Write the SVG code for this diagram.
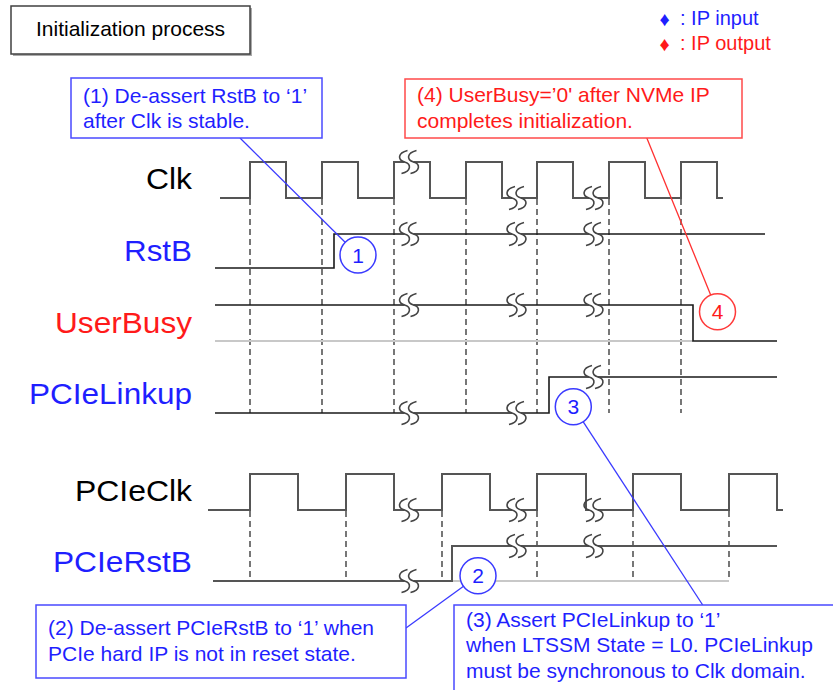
<svg xmlns="http://www.w3.org/2000/svg" xmlns:xlink="http://www.w3.org/1999/xlink" width="833" height="690" viewBox="0 0 833 690">
<style>
text{font-family:"Liberation Sans",Arial,sans-serif}
.lbl{font-size:29px;text-anchor:end}
.co{font-size:21px}
.blue{fill:#1f1fff}
.red{fill:#ff1a1a}
.blk{fill:#000}
.wclk{fill:none;stroke:#555;stroke-width:2}
.wsig{fill:none;stroke:#1a1a1a;stroke-width:1.6}
.wgray{fill:none;stroke:#c8c8c8;stroke-width:2}
.dash{fill:none;stroke:#555;stroke-width:1.6;stroke-dasharray:6 4}
.bbox{fill:#fff;stroke:#4a4aff;stroke-width:1.5}
.rbox{fill:#fff;stroke:#ff4a4a;stroke-width:1.5}
.bcir{fill:#fff;stroke:#3a3aff;stroke-width:1.5}
.rcir{fill:#fff;stroke:#ff3a3a;stroke-width:1.5}
.num{font-size:21px;text-anchor:middle}
.bl{stroke:#3a3aff;stroke-width:1.3}
.rl{stroke:#ff3030;stroke-width:1.3}
</style>
<defs>
<g id="brk">
<rect x="-4.5" y="-2.5" width="9" height="5" fill="#fff"/>
<path d="M-1.5,-11.5 C-11.5,-9 -11.5,-2 -4.5,0 C2.5,2 2.5,9 -7.5,11.5 M7.5,-11.5 C-2.5,-9 -2.5,-2 4.5,0 C11.5,2 11.5,9 1.5,11.5" fill="none" stroke="#444" stroke-width="1.6"/>
</g>
</defs>
<rect width="833" height="690" fill="#fff"/>

<g id="title">
<rect x="13" y="8" width="239" height="48" fill="#aaa"/>
<rect x="11" y="6" width="239" height="48" fill="#fff" stroke="#404040" stroke-width="1.5"/>
<text x="36" y="36" style="font-size:21px" class="blk">Initialization process</text>
</g>

<g id="legend">
<text x="664.5" y="25.5" style="font-size:20px;text-anchor:middle" class="blue">♦</text>
<text x="680" y="25" style="font-size:20px" class="blue">: IP input</text>
<text x="664.5" y="50.5" style="font-size:20px;text-anchor:middle" class="red">♦</text>
<text x="680" y="50" style="font-size:20px" class="red">: IP output</text>
</g>

<g id="grid">
<path class="dash" d="M250,199V413 M322,199V413 M394,199V413 M466,199V413 M537,199V413 M609,199V413 M681,199V413"/>
<path class="dash" d="M250,511V581 M346,511V581 M442,511V581 M537,511V581 M633,511V581 M729,511V581"/>
</g>

<g id="sig-clk">
<text class="lbl blk" x="192" y="189" textLength="46" lengthAdjust="spacingAndGlyphs">Clk</text>
<path class="wclk" d="M220,198 H250 V162 H286 V198 H322 V162 H358 V198 H394 V162 H430 V198 H466 V162 H502 V198 H537 V162 H573 V198 H609 V162 H645 V198 H681 V162 H717 V198 H723"/>
<use xlink:href="#brk" x="409" y="162"/>
<use xlink:href="#brk" x="516.5" y="198"/>
<use xlink:href="#brk" x="593.5" y="198"/>
</g>

<g id="sig-rstb">
<text class="lbl blue" x="192" y="261" textLength="68" lengthAdjust="spacingAndGlyphs">RstB</text>
<path class="wsig" d="M215,268 H334 V234 H765"/>
<use xlink:href="#brk" x="409" y="234"/>
<use xlink:href="#brk" x="516.5" y="234"/>
<use xlink:href="#brk" x="593.5" y="234"/>
</g>

<g id="sig-userbusy">
<text class="lbl red" x="192" y="333" textLength="137" lengthAdjust="spacingAndGlyphs">UserBusy</text>
<path class="wgray" d="M215,341 H693"/>
<path class="wsig" d="M215,305 H693 V341 H777"/>
<use xlink:href="#brk" x="409" y="305"/>
<use xlink:href="#brk" x="516.5" y="305"/>
<use xlink:href="#brk" x="593.5" y="305"/>
</g>

<g id="sig-pcielinkup">
<text class="lbl blue" x="192" y="404" textLength="163" lengthAdjust="spacingAndGlyphs">PCIeLinkup</text>
<path class="wsig" d="M215,413 H549 V377 H777"/>
<use xlink:href="#brk" x="409" y="413"/>
<use xlink:href="#brk" x="516.5" y="413"/>
<use xlink:href="#brk" x="593.5" y="377"/>
</g>

<g id="sig-pcieclk">
<text class="lbl blk" x="192" y="501" textLength="117" lengthAdjust="spacingAndGlyphs">PCIeClk</text>
<path class="wclk" d="M208,510 H250 V474 H298 V510 H346 V474 H394 V510 H442 V474 H490 V510 H537 V474 H586 V510 H633 V474 H681 V510 H729 V474 H777 V510 H783"/>
<use xlink:href="#brk" x="409" y="510"/>
<use xlink:href="#brk" x="516.5" y="510"/>
<use xlink:href="#brk" x="593.5" y="510"/>
</g>

<g id="sig-pcierstb">
<text class="lbl blue" x="192" y="572" textLength="139" lengthAdjust="spacingAndGlyphs">PCIeRstB</text>
<path class="wgray" d="M452,581 H729"/>
<path class="wclk" d="M213,581 H452 V546 H777"/>
<use xlink:href="#brk" x="409" y="581"/>
<use xlink:href="#brk" x="516.5" y="546"/>
<use xlink:href="#brk" x="593.5" y="546"/>
</g>

<g id="connectors">
<line class="bl" x1="240" y1="138" x2="358" y2="255"/>
<line class="rl" x1="646.7" y1="137.7" x2="717.5" y2="311.7"/>
<line class="bl" x1="702.7" y1="605" x2="573.3" y2="406.7"/>
<line class="bl" x1="406" y1="628" x2="478" y2="575.7"/>
</g>

<g id="marker1">
<circle class="bcir" cx="358" cy="255" r="18"/>
<text class="num blue" x="358" y="262.5">1</text>
</g>
<g id="marker2">
<circle class="bcir" cx="478" cy="575.7" r="18"/>
<text class="num blue" x="478" y="583">2</text>
</g>
<g id="marker3">
<circle class="bcir" cx="573.3" cy="406.7" r="18"/>
<text class="num blue" x="573.3" y="414">3</text>
</g>
<g id="marker4">
<circle class="rcir" cx="717.5" cy="311.7" r="18"/>
<text class="num red" x="717.5" y="319">4</text>
</g>

<g id="note1">
<rect class="bbox" x="71" y="78" width="251" height="60"/>
<text class="co blue" x="83" y="103">(1) De-assert RstB to ‘1’</text>
<text class="co blue" x="83" y="128">after Clk is stable.</text>
</g>

<g id="note4">
<rect class="rbox" x="405" y="79" width="337" height="59"/>
<text class="co red" x="417" y="102">(4) UserBusy=’0' after NVMe IP</text>
<text class="co red" x="417" y="128">completes initialization.</text>
</g>

<g id="note2">
<rect class="bbox" x="36" y="605" width="370" height="73"/>
<text class="co blue" x="48" y="635">(2) De-assert PCIeRstB to ‘1’ when</text>
<text class="co blue" x="48" y="661">PCIe hard IP is not in reset state.</text>
</g>

<g id="note3">
<rect class="bbox" x="454" y="605" width="400" height="100"/>
<text class="co blue" x="466" y="627">(3) Assert PCIeLinkup to ‘1’</text>
<text class="co blue" x="466" y="652">when LTSSM State = L0. PCIeLinkup</text>
<text class="co blue" x="466" y="678">must be synchronous to Clk domain.</text>
</g>
</svg>
